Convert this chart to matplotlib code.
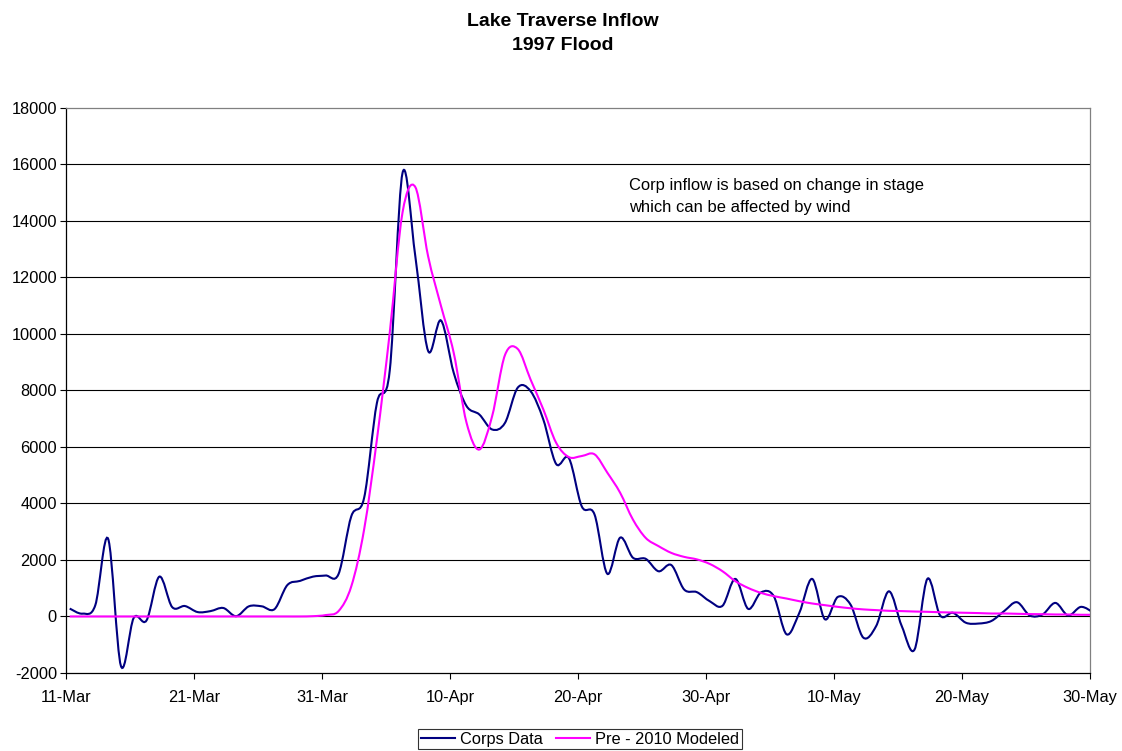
import numpy as np
import matplotlib.pyplot as plt
from matplotlib.path import Path
from matplotlib.patches import PathPatch
from matplotlib.lines import Line2D

plt.rcParams['font.family'] = ['Liberation Sans', 'DejaVu Sans']
plt.rcParams['axes.unicode_minus'] = False

# daily readings from 11-Mar to 30-May 1997, taken around 7 am
reading_hour = 7
days = np.arange(81) + reading_hour / 24.0

corps_data = [280, 100, 400, 2750, -1750, -50, -140, 1410, 335, 370,
              155, 190, 300, 10, 360, 360, 260, 1110, 1260, 1410,
              1450, 1500, 3550, 4200, 7560, 8700, 15700, 12750, 9400, 10480,
              8625, 7450, 7150, 6620, 6850, 8100, 7980, 6970, 5400, 5600,
              3900, 3610, 1510, 2790, 2080, 2040, 1600, 1820, 955, 860,
              540, 380, 1330, 270, 850, 720, -630, 130, 1330, -100,
              690, 420, -750, -340, 890, -340, -1170, 1330, 35, 130,
              -220, -250, -160, 190, 505, 35, 70, 480, 35, 340,
              130]

modeled = [0, 0, 0, 0, 0, 0, 0, 0, 0, 0,
           0, 0, 0, 0, 0, 0, 0, 0, 0, 10,
           50, 190, 1070, 3080, 6270, 10040, 14300, 15200, 12750, 11000,
           9330, 6860, 5910, 7090, 9250, 9470, 8390, 7330, 6150, 5640,
           5680, 5740, 5090, 4380, 3430, 2780, 2490, 2250, 2110, 2020,
           1860, 1600, 1250, 1010, 835, 720, 635, 540, 460, 400,
           340, 290, 250, 225, 200, 190, 175, 165, 150, 140,
           130, 120, 105, 105, 95, 85, 80, 70, 70, 60,
           60]

xtick_days = [0, 10, 20, 30, 40, 50, 60, 70, 80]
xtick_labels = ['11-Mar', '21-Mar', '31-Mar', '10-Apr', '20-Apr',
                '30-Apr', '10-May', '20-May', '30-May']
yticks = list(range(-2000, 18001, 2000))

note = 'Corp inflow is based on change in stage\nwhich can be affected by wind'


def smooth_path(x, y):
    # Excel style smoothed line: cubic bezier segments through every point
    x = np.asarray(x, float)
    y = np.asarray(y, float)
    n = len(x)
    verts = [(x[0], y[0])]
    codes = [Path.MOVETO]
    for i in range(n - 1):
        x0, y0 = (x[i - 1], y[i - 1]) if i > 0 else (x[i], y[i])
        x3, y3 = (x[i + 2], y[i + 2]) if i + 2 < n else (x[i + 1], y[i + 1])
        c1 = (x[i] + (x[i + 1] - x0) / 6, y[i] + (y[i + 1] - y0) / 6)
        c2 = (x[i + 1] - (x3 - x[i]) / 6, y[i + 1] - (y3 - y[i]) / 6)
        verts += [c1, c2, (x[i + 1], y[i + 1])]
        codes += [Path.CURVE4] * 3
    return Path(verts, codes)


fig = plt.figure(figsize=(11.22, 7.51), dpi=100)
ax = fig.add_axes([0.0588, 0.1039, 0.9127, 0.7523])

ax.add_patch(PathPatch(smooth_path(days, corps_data), fill=False,
                       edgecolor='#000080', lw=1.5, zorder=3))
ax.add_patch(PathPatch(smooth_path(days, modeled), fill=False,
                       edgecolor='#FF00FF', lw=1.5, zorder=4))

ax.set_xlim(0, 80)
ax.set_ylim(-2000, 18000)
ax.set_xticks(xtick_days)
ax.set_xticklabels(xtick_labels)
ax.set_yticks(yticks)
ax.tick_params(axis='both', labelsize=11.8, direction='out', length=4.5,
               width=0.8, color='black')
ax.tick_params(axis='y', pad=2)
ax.tick_params(axis='x', pad=8)

for y in yticks[1:-1]:
    ax.axhline(y, color='black', lw=0.8, zorder=1)

for s in ['left', 'bottom']:
    ax.spines[s].set_color('black')
    ax.spines[s].set_linewidth(0.9)
for s in ['top', 'right']:
    ax.spines[s].set_color('#808080')
    ax.spines[s].set_linewidth(0.9)

ax.text(0.5498, 0.876, note, transform=ax.transAxes, fontsize=11.9,
        va='top', ha='left', linespacing=1.55)

fig.text(0.502, 0.983, 'Lake Traverse Inflow\n1997 Flood', ha='center',
         va='top', fontsize=14, fontweight='bold', linespacing=1.55)

handles = [Line2D([], [], color='#000080', lw=1.5),
           Line2D([], [], color='#FF00FF', lw=1.5)]
leg = fig.legend(handles, ['Corps Data', 'Pre - 2010 Modeled'], ncol=2,
                 loc='lower center', bbox_to_anchor=(0.517, 0.0),
                 fontsize=11.8, frameon=True, fancybox=False,
                 borderpad=0.15, handlelength=2.1, handletextpad=0.3,
                 columnspacing=0.8, borderaxespad=0.1)
leg.get_frame().set_edgecolor('black')
leg.get_frame().set_linewidth(0.8)

plt.savefig('out.png', dpi=100)
